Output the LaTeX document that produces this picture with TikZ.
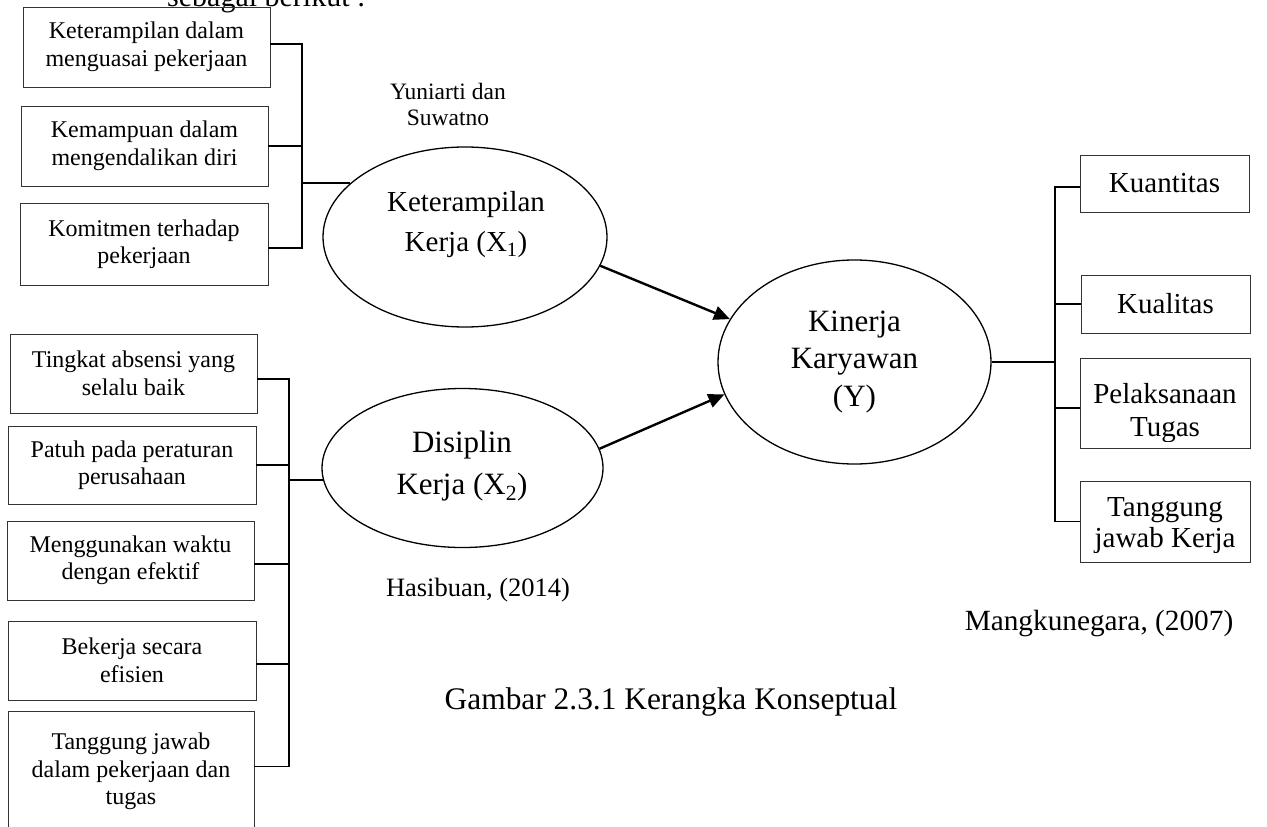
\documentclass[tikz,border=0pt]{standalone}
\usepackage{fontspec}
\setmainfont{Liberation Serif}
\usetikzlibrary{shapes.geometric,arrows.meta}
\begin{document}
\begin{tikzpicture}[x=1pt,y=-1pt,
  ind/.style={draw=black!80, line width=0.9pt, rectangle, align=center, inner sep=0pt, outer sep=0pt,
    font=\fontsize{24}{27.5}\selectfont},
  rbox/.style={draw=black!80, line width=0.9pt, rectangle, align=center, inner sep=0pt, outer sep=0pt,
    font=\fontsize{29}{33}\selectfont},
  conn/.style={draw=black, line width=1.8pt},
  lat/.style={ellipse, draw=black, line width=1.3pt, inner sep=0pt},
  txt/.style={align=center, inner sep=0pt},
  arr/.style={draw=black, line width=2.4pt, -{Triangle[length=16pt,width=14pt]}}
]
\useasboundingbox (0,0) rectangle (1267,827);
\clip (0,0) rectangle (1267,827);

% heading text, cut at the top edge as in the reference
\node[anchor=base west, inner sep=0pt, font=\fontsize{30}{36}\selectfont] (head) at (167,6) {sebagai berikut :};

% ---- left top indicator boxes ----
\node[ind, minimum width=247, minimum height=80] (A1) at (146.5,47) {Keterampilan dalam\\menguasai pekerjaan};
\node[ind, minimum width=247, minimum height=80] (A2) at (144.5,146) {Kemampuan dalam\\mengendalikan diri};
\node[ind, minimum width=248, minimum height=82] (A3) at (144,244) {Komitmen terhadap\\pekerjaan};

% ---- left bottom indicator boxes ----
\node[ind, minimum width=247, minimum height=79] (B1) at (133.5,373.5) {Tingkat absensi yang\\selalu baik};
\node[ind, minimum width=248, minimum height=78] (B2) at (132,465) {Patuh pada peraturan\\perusahaan};
\node[ind, minimum width=247, minimum height=79] (B3) at (130.5,560.5) {Menggunakan waktu\\dengan efektif};
\node[ind, minimum width=248, minimum height=79] (B4) at (132,660.5) {Bekerja secara\\efisien};
\node[ind, minimum width=246, minimum height=120] (B5) at (131,771.5) {Tanggung jawab\\dalam pekerjaan dan\\tugas};

% ---- latent variables ----
\node[lat, minimum width=284, minimum height=180] (X1) at (465,237) {};
\node[txt, font=\fontsize{29}{40}\selectfont] (X1t) at (466,225) {Keterampilan\\Kerja (X\textsubscript{1})};

\node[lat, minimum width=281, minimum height=159] (X2) at (462.5,468) {};
\node[txt, font=\fontsize{31}{42}\selectfont] (X2t) at (462,466) {Disiplin\\Kerja (X\textsubscript{2})};

\node[lat, minimum width=273, minimum height=204] (Y) at (854.5,362) {};
\node[txt, font=\fontsize{31}{37.5}\selectfont] (Yt) at (854.5,362) {Kinerja\\Karyawan\\(Y)};

% ---- right indicator boxes ----
\node[rbox, minimum width=169, minimum height=57] (K1) at (1164.5,183.5) {Kuantitas};
\node[rbox, minimum width=169, minimum height=58] (K2) at (1165.5,304) {Kualitas};
\node[rbox, minimum width=170, minimum height=90] (K3) at (1165,403) {};
\node[rbox, minimum width=170, minimum height=81] (K4) at (1165,521.5) {};
\begin{scope}
  \clip (1080,358) rectangle (1250,441);
  \node[txt, font=\fontsize{29}{33}\selectfont] (K3t) at (1165,413) {Pelaksanaan\\Tugas};
\end{scope}
\begin{scope}
  \clip (1080,481) rectangle (1250,552);
  \node[txt, font=\fontsize{29}{31}\selectfont] (K4t) at (1165,526) {Tanggung\\jawab Kerja};
\end{scope}

% ---- source labels ----
\node[txt, font=\fontsize{23.5}{26}\selectfont] (src1) at (448,104) {Yuniarti dan\\Suwatno};
\node[txt, anchor=base, font=\fontsize{26.5}{30}\selectfont] (src2) at (478,596) {Hasibuan, (2014)};
\node[txt, anchor=base, font=\fontsize{29.3}{34}\selectfont] (src3) at (1099,630) {Mangkunegara, (2007)};
\node[txt, anchor=base, font=\fontsize{31.4}{36}\selectfont] (cap) at (671,709) {Gambar 2.3.1 Kerangka Konseptual};

% ---- connector junctions ----
\coordinate (vL1) at (302,0);
\coordinate (vL2) at (289,0);
\coordinate (vR) at (1055,0);
\coordinate (a1) at ([yshift=3pt]A1.east);
\coordinate (a2) at (A2.east);
\coordinate (a3) at ([yshift=-4pt]A3.east);
\coordinate (b1) at ([yshift=-5.5pt]B1.east);
\coordinate (b2) at (B2.east);
\coordinate (b3) at ([yshift=-3.5pt]B3.east);
\coordinate (b4) at ([yshift=-3.5pt]B4.east);
\coordinate (b5) at ([yshift=5pt]B5.east);
\coordinate (k1) at ([yshift=-3.5pt]K1.west);
\coordinate (k2) at (K2.west);
\coordinate (k3) at ([yshift=-5pt]K3.west);
\coordinate (k4) at (K4.west);

% left top bracket
\draw[conn] (a1) -- (a1 -| vL1) -- (a3 -| vL1) -- (a3);
\draw[conn] (a2) -- (a2 -| vL1);
\draw[conn] (X1.155 -| vL1) -- (X1.155);

% left bottom bracket
\draw[conn] (b1) -- (b1 -| vL2) -- (b5 -| vL2) -- (b5);
\draw[conn] (b2) -- (b2 -| vL2);
\draw[conn] (b3) -- (b3 -| vL2);
\draw[conn] (b4) -- (b4 -| vL2);
\draw[conn] (X2.185 -| vL2) -- (X2.185);

% right bracket
\draw[conn] (k1) -- (k1 -| vR) -- (k4 -| vR) -- (k4);
\draw[conn] (k2) -- (k2 -| vR);
\draw[conn] (k3) -- (k3 -| vR);
\draw[conn] (Y.east) -- (Y.east -| vR);

% arrows
\draw[arr] (X1.-12) -- (Y.161);
\draw[arr] (X2.8) -- (Y.-166);
\end{tikzpicture}
\end{document}
